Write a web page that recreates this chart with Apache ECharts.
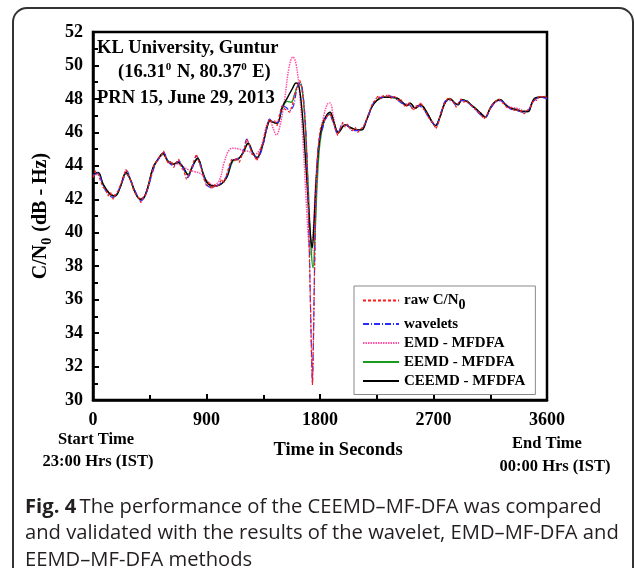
<!DOCTYPE html>
<html>
<head>
<meta charset="utf-8">
<script src="https://cdn.jsdelivr.net/npm/echarts@6/dist/echarts.min.js"></script>
<style>
  html, body { margin: 0; padding: 0; background: #fff; }
  #chart { width: 634px; height: 568px; }
</style>
</head>
<body>
<div id="chart"></div>
<script>
// [time in s, C/N0 in dB-Hz]
var rawData = [
  [0,43.3],[20,43.7],[40,43.5],[60,43.1],[80,42.7],[100,42.6],[120,42.2],[140,42.4],[160,42.0],[180,42.3],
  [200,42.5],[220,42.9],[240,43.3],[260,43.8],[280,43.4],[300,43.1],[320,42.6],[340,42.3],[360,42.1],[380,41.8],
  [400,42.2],[420,42.3],[440,42.9],[460,43.4],[480,44.0],[500,44.2],[520,44.5],[540,44.6],[560,44.9],[580,44.4],
  [600,44.1],[620,44.3],[640,43.9],[660,44.2],[680,44.4],[700,43.9],[720,43.7],[740,43.2],[760,43.5],[780,43.8],
  [800,44.3],[820,44.7],[840,44.2],[860,43.8],[880,43.2],[900,42.8],[920,43.0],[940,42.6],[960,42.9],[980,42.7],
  [1000,42.9],[1020,43.2],[1040,43.0],[1060,43.5],[1080,44.0],[1100,44.4],[1120,44.3],[1140,44.5],[1160,44.2],[1180,44.6],
  [1200,45.0],[1220,45.6],[1240,45.3],[1260,44.7],[1280,44.6],[1300,44.3],[1320,44.8],[1340,45.2],[1360,45.8],[1380,46.4],
  [1400,46.8],[1420,46.6],[1440,46.7],[1460,46.4],[1480,47.1],[1500,47.6],[1520,47.4],[1540,47.3],[1560,47.2],[1580,47.6],
  [1600,48.3],[1620,48.8],[1640,49.1],[1655,48.7],[1670,47.8],[1685,46.2],[1700,43.5],[1712,40.0],[1722,36.5],[1732,33.0],
  [1740,30.9],[1748,33.5],[1756,37.5],[1765,41.5],[1775,44.0],[1790,45.5],[1805,46.3],[1820,46.2],[1840,46.8],[1860,47.0],
  [1880,47.1],[1900,46.7],[1920,46.3],[1940,45.8],[1960,46.2],[1980,46.6],[2000,46.3],[2020,46.5],[2040,46.2],[2060,46.1],
  [2080,46.3],[2100,46.0],[2120,46.2],[2140,46.3],[2160,46.6],[2180,47.0],[2200,47.4],[2220,47.8],[2240,47.9],[2260,48.2],
  [2280,48.0],[2300,48.2],[2320,48.1],[2340,48.3],[2360,48.0],[2380,48.2],[2400,48.1],[2420,47.9],[2440,48.0],[2460,47.7],
  [2480,47.5],[2500,47.8],[2520,47.6],[2540,47.3],[2560,47.6],[2580,47.5],[2600,47.8],[2620,47.4],[2640,47.2],[2660,46.9],
  [2680,46.7],[2700,46.5],[2720,46.2],[2740,46.6],[2760,47.2],[2780,47.6],[2800,47.9],[2820,48.1],[2840,47.9],[2860,47.8],
  [2880,47.5],[2900,47.8],[2920,48.0],[2940,47.8],[2960,47.9],[2980,47.7],[3000,47.6],[3020,47.5],[3040,47.3],[3060,47.2],
  [3080,47.0],[3100,46.8],[3120,47.0],[3140,47.3],[3160,47.6],[3180,47.8],[3200,47.9],[3220,48.0],[3240,47.8],[3260,47.7],
  [3280,47.5],[3300,47.4],[3320,47.5],[3340,47.3],[3360,47.4],[3380,47.2],[3400,47.3],[3420,47.1],[3440,47.3],[3460,47.4],
  [3480,47.7],[3500,48.0],[3520,47.9],[3540,48.2],[3560,48.1],[3580,48.2],[3600,48.0]
];

var waveletData = [
  [0,43.4],[40,43.6],[80,42.8],[120,42.3],[160,42.1],[200,42.5],[240,43.2],[270,43.7],[300,43.1],[340,42.4],
  [380,41.9],[420,42.3],[460,43.3],[500,44.2],[540,44.6],[560,44.8],[600,44.2],[640,44.0],[680,44.3],[720,43.8],
  [750,43.3],[790,43.9],[820,44.6],[860,43.9],[900,42.9],[940,42.7],[980,42.8],[1020,43.0],[1060,43.4],[1100,44.3],
  [1140,44.4],[1180,44.6],[1220,45.6],[1250,45.0],[1280,44.6],[1300,44.4],[1340,45.0],[1380,46.3],[1400,46.8],[1440,46.6],
  [1470,46.6],[1500,47.6],[1530,47.5],[1560,47.3],[1590,47.6],[1620,48.7],[1645,49.0],[1665,48.3],[1685,46.5],[1700,43.8],
  [1712,40.2],[1725,35.5],[1735,32.0],[1740,31.0],[1746,32.8],[1755,37.0],[1765,41.2],[1780,44.5],[1795,45.6],[1815,46.1],
  [1840,46.7],[1870,47.1],[1900,46.7],[1940,45.9],[1980,46.5],[2020,46.4],[2060,46.1],[2100,46.1],[2140,46.3],[2180,46.9],
  [2220,47.7],[2260,48.1],[2300,48.1],[2340,48.2],[2380,48.1],[2420,47.9],[2460,47.7],[2500,47.7],[2540,47.4],[2580,47.6],
  [2620,47.4],[2660,46.9],[2700,46.5],[2720,46.3],[2760,47.2],[2800,47.9],[2840,47.9],[2880,47.6],[2920,47.9],[2960,47.9],
  [3000,47.6],[3040,47.3],[3080,47.0],[3110,46.9],[3150,47.4],[3190,47.8],[3230,47.9],[3270,47.7],[3310,47.4],[3360,47.3],
  [3410,47.2],[3450,47.3],[3480,47.7],[3510,48.0],[3550,48.1],[3600,48.0]
];

var emdData = [
  [0,43.4],[40,43.5],[80,42.9],[135,42.35],[175,42.25],[215,42.7],[262,43.5],[295,43.2],[335,42.45],[375,42.05],
  [400,42.1],[436,42.7],[476,43.8],[516,44.35],[555,44.65],[595,44.3],[635,44.15],[675,44.1],[715,43.95],[760,43.75],
  [810,43.65],[860,43.5],[905,43.1],[950,42.85],[1000,43.1],[1040,44.2],[1080,44.95],[1120,45.05],[1160,45.0],[1200,44.9],
  [1240,44.85],[1270,44.7],[1300,44.75],[1340,45.3],[1380,46.5],[1405,46.65],[1430,46.2],[1455,45.85],[1480,46.3],[1520,48.0],
  [1555,49.9],[1585,50.5],[1610,50.1],[1640,48.2],[1665,45.5],[1690,42.0],[1712,39.3],[1728,38.7],[1745,40.0],[1770,43.5],
  [1800,45.8],[1830,47.0],[1860,47.7],[1880,47.75],[1905,47.0],[1940,46.05],[2000,46.45],[2040,46.3],[2090,46.15],[2130,46.15],
  [2170,46.75],[2210,47.5],[2250,47.9],[2300,48.1],[2355,48.1],[2410,48.05],[2460,47.75],[2490,47.65],[2515,47.7],[2555,47.5],
  [2595,47.65],[2650,47.15],[2690,46.65],[2715,46.45],[2750,46.9],[2790,47.7],[2830,48.0],[2870,47.75],[2895,47.7],[2925,47.9],
  [2965,47.85],[3005,47.6],[3045,47.35],[3085,47.1],[3110,46.95],[3150,47.4],[3190,47.8],[3230,47.9],[3270,47.7],[3310,47.5],
  [3360,47.45],[3410,47.3],[3450,47.25],[3480,47.7],[3505,48.0],[3545,48.1],[3585,48.1],[3600,48.0]
];

var eemdData = [
  [0,43.45],[40,43.6],[80,42.9],[135,42.3],[175,42.2],[215,42.7],[262,43.55],[295,43.2],[335,42.4],[375,42.0],
  [400,42.05],[436,42.75],[476,43.85],[516,44.4],[555,44.7],[595,44.3],[635,44.1],[675,44.25],[715,43.9],[755,43.5],
  [790,44.0],[830,44.4],[870,43.65],[905,43.0],[950,42.8],[1000,42.85],[1060,43.3],[1110,44.3],[1150,44.4],[1190,44.75],
  [1230,45.3],[1270,44.75],[1300,44.45],[1340,45.1],[1380,46.3],[1405,46.7],[1430,46.6],[1460,46.55],[1500,47.4],[1540,47.85],
  [1570,47.8],[1600,48.3],[1635,48.9],[1655,48.75],[1680,46.8],[1705,43.0],[1728,39.2],[1745,37.9],[1760,39.8],[1780,43.3],
  [1800,45.4],[1830,46.6],[1860,47.0],[1880,47.1],[1910,46.6],[1945,46.0],[2000,46.45],[2040,46.3],[2090,46.15],[2130,46.15],
  [2170,46.75],[2210,47.5],[2250,47.9],[2300,48.1],[2355,48.1],[2410,48.05],[2460,47.75],[2490,47.6],[2515,47.75],[2555,47.45],
  [2595,47.65],[2650,47.15],[2690,46.6],[2715,46.4],[2750,46.9],[2790,47.75],[2830,48.0],[2870,47.75],[2895,47.65],[2925,47.95],
  [2965,47.85],[3005,47.6],[3045,47.35],[3085,47.05],[3110,46.9],[3150,47.45],[3190,47.85],[3230,47.95],[3270,47.65],[3310,47.45],
  [3360,47.35],[3410,47.25],[3450,47.25],[3480,47.75],[3505,48.05],[3545,48.1],[3585,48.1],[3600,48.0]
];

var ceemdData = [
  [0,43.5],[40,43.6],[80,42.9],[135,42.3],[175,42.2],[215,42.7],[262,43.6],[295,43.2],[335,42.4],[375,42.0],
  [400,42.05],[436,42.75],[476,43.9],[516,44.4],[555,44.75],[595,44.25],[635,44.1],[675,44.2],[715,43.9],[755,43.45],
  [790,44.0],[830,44.45],[870,43.6],[905,43.0],[950,42.8],[1000,42.85],[1060,43.3],[1110,44.35],[1150,44.4],[1190,44.8],
  [1230,45.35],[1270,44.75],[1300,44.5],[1340,45.1],[1380,46.3],[1405,46.7],[1430,46.6],[1460,46.55],[1500,47.5],[1540,48.05],
  [1580,48.6],[1610,48.95],[1630,48.85],[1655,47.5],[1680,45.0],[1705,42.0],[1725,39.8],[1738,39.1],[1752,40.5],[1770,43.2],
  [1795,45.5],[1820,46.5],[1850,47.0],[1880,47.2],[1910,46.6],[1945,46.0],[2000,46.45],[2040,46.3],[2090,46.15],[2130,46.15],
  [2170,46.75],[2210,47.5],[2250,47.9],[2300,48.1],[2355,48.1],[2410,48.05],[2460,47.75],[2490,47.6],[2515,47.75],[2555,47.45],
  [2595,47.65],[2650,47.15],[2690,46.6],[2715,46.4],[2750,46.9],[2790,47.75],[2830,48.0],[2870,47.75],[2895,47.65],[2925,47.95],
  [2965,47.85],[3005,47.6],[3045,47.35],[3085,47.05],[3110,46.9],[3150,47.45],[3190,47.85],[3230,47.95],[3270,47.65],[3310,47.45],
  [3360,47.35],[3410,47.25],[3450,47.25],[3480,47.75],[3505,48.05],[3545,48.1],[3585,48.1],[3600,48.0]
];

var seriesNames = ['raw', 'wavelets', 'EMD - MFDFA', 'EEMD - MFDFA', 'CEEMD - MFDFA'];
var xTicks = [0, 900, 1800, 2700, 3600];

var serif = 'Liberation Serif';
var chart = echarts.init(document.getElementById('chart'));

function lineSeries(name, data, color, type, width, smooth, z) {
  return {
    name: name,
    type: 'line',
    data: data,
    showSymbol: false,
    symbol: 'none',
    smooth: smooth,
    z: z,
    animation: false,
    lineStyle: { color: color, width: width, type: type },
    itemStyle: { color: color }
  };
}

chart.setOption({
  animation: false,
  grid: { left: 93, right: 87, top: 32, bottom: 168, show: true, borderColor: '#000', borderWidth: 2.5 },
  legend: {
    data: seriesNames,
    orient: 'vertical',
    left: 354,
    top: 286,
    padding: [7, 10, 6, 8],
    itemGap: 4,
    itemWidth: 36,
    itemHeight: 15,
    borderColor: '#888',
    borderWidth: 1,
    itemStyle: { opacity: 0 },
    textStyle: {
      fontFamily: serif, fontWeight: 'bold', fontSize: 15, color: '#000',
      rich: {
        b: { fontFamily: serif, fontWeight: 'bold', fontSize: 15, color: '#000' },
        s: { fontFamily: serif, fontWeight: 'bold', fontSize: 14, color: '#000', padding: [10, 0, 0, 0] }
      }
    },
    formatter: function (name) {
      if (name === 'raw') return '{b|raw C/N}{s|0}';
      return name;
    }
  },
  xAxis: {
    type: 'value',
    min: 0,
    max: 3600,
    interval: 900,
    axisLine: { lineStyle: { color: '#000', width: 2.5 } },
    axisTick: { inside: true, length: 6, lineStyle: { color: '#000', width: 2 } },
    minorTick: { show: true, splitNumber: 2, length: 5, lineStyle: { color: '#000', width: 2 } },
    splitLine: { show: false },
    axisLabel: {
      fontFamily: serif, fontWeight: 'bold', fontSize: 18, color: '#000', margin: 11,
      formatter: function (v) { return xTicks.indexOf(v) >= 0 ? String(v) : ''; }
    }
  },
  yAxis: {
    type: 'value',
    min: 30,
    max: 52,
    interval: 2,
    name: '{a|C/N}{s|0}{a| (dB - Hz)}',
    nameLocation: 'middle',
    nameRotate: 90,
    nameGap: 37,
    nameTextStyle: {
      rich: {
        a: { fontFamily: serif, fontWeight: 'bold', fontSize: 20, color: '#000' },
        s: { fontFamily: serif, fontWeight: 'bold', fontSize: 14, color: '#000', padding: [12, 1, 0, 0] }
      }
    },
    axisLine: { show: true, lineStyle: { color: '#000', width: 2.5 } },
    axisTick: { inside: true, length: 6, lineStyle: { color: '#000', width: 2 } },
    minorTick: { show: true, splitNumber: 2, length: 5, lineStyle: { color: '#000', width: 2 } },
    splitLine: { show: false },
    axisLabel: { fontFamily: serif, fontWeight: 'bold', fontSize: 18, color: '#000', margin: 10 }
  },
  series: [
    lineSeries('raw', rawData, '#ff1a1a', [3, 2], 1.2, false, 6),
    lineSeries('wavelets', waveletData, '#2b2bff', [6, 2, 1, 2], 1.2, 0.3, 5),
    lineSeries('EMD - MFDFA', emdData, '#ff4fa7', [1.5, 1], 1.5, 0.4, 2),
    lineSeries('EEMD - MFDFA', eemdData, '#1a9c1a', 'solid', 1.4, 0.4, 3),
    lineSeries('CEEMD - MFDFA', ceemdData, '#000000', 'solid', 1.4, 0.4, 4)
  ],
  graphic: [
    { type: 'rect', silent: true, z: -1, shape: { x: 13, y: 8, width: 620, height: 620, r: 14 },
      style: { fill: 'none', stroke: '#333', lineWidth: 2 } },
    { type: 'text', left: 97, top: 39, style: { text: 'KL University, Guntur', font: 'bold 18.5px "Liberation Serif"', fill: '#000' } },
    { type: 'text', left: 118, top: 62, style: {
        text: '{a|(16.31}{p|0}{a| N, 80.37}{p|0}{a| E)}',
        rich: {
          a: { font: 'bold 18.5px "Liberation Serif"', fill: '#000' },
          p: { font: 'bold 11px "Liberation Serif"', fill: '#000', padding: [0, 1, 10, 0] }
        } } },
    { type: 'text', left: 97, top: 89, style: { text: 'PRN 15, June 29, 2013', font: 'bold 18.5px "Liberation Serif"', fill: '#000' } },
    { type: 'text', x: 96, y: 431, style: { text: 'Start Time', align: 'center', font: 'bold 16.5px "Liberation Serif"', fill: '#000' } },
    { type: 'text', x: 98, y: 453, style: { text: '23:00 Hrs (IST)', align: 'center', font: 'bold 16.5px "Liberation Serif"', fill: '#000' } },
    { type: 'text', x: 338, y: 441, style: { text: 'Time in Seconds', align: 'center', font: 'bold 18.5px "Liberation Serif"', fill: '#000' } },
    { type: 'text', x: 547, y: 435, style: { text: 'End Time', align: 'center', font: 'bold 16.5px "Liberation Serif"', fill: '#000' } },
    { type: 'text', x: 555, y: 458, style: { text: '00:00 Hrs (IST)', align: 'center', font: 'bold 16.5px "Liberation Serif"', fill: '#000' } },
    { type: 'text', left: 25, top: 497, style: {
        text: '{b|Fig. 4} {r|The performance of the CEEMD\u2013MF-DFA was compared}\n{r|and validated with the results of the wavelet, EMD\u2013MF-DFA and}\n{r|EEMD\u2013MF-DFA methods}',
        rich: {
          b: { font: 'bold 20.2px "Open Sans"', fill: '#231f20', lineHeight: 26.5 },
          r: { font: '20.2px "Open Sans"', fill: '#231f20', lineHeight: 26.5 }
        } } }
  ]
});
</script>
</body>
</html>
